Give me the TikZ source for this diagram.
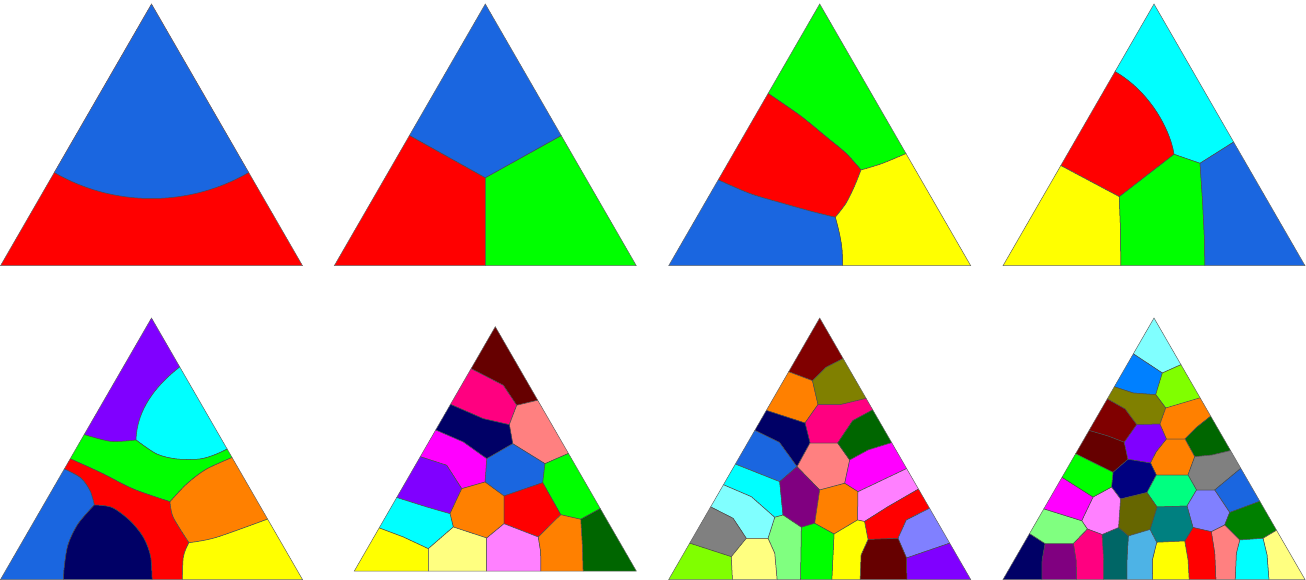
\documentclass[tikz,border=0pt]{standalone}
\usepackage{tikz}
\definecolor{vblue}{RGB}{26,102,224}
\definecolor{vred}{RGB}{255,0,0}
\definecolor{vgreen}{RGB}{0,255,0}
\definecolor{vyellow}{RGB}{255,255,0}
\definecolor{vcyan}{RGB}{0,255,255}
\definecolor{vviolet}{RGB}{128,0,255}
\definecolor{vorange}{RGB}{255,128,0}
\definecolor{vnavy}{RGB}{0,0,102}
\definecolor{vnavyb}{RGB}{0,0,128}
\definecolor{vdkred}{RGB}{102,0,0}
\definecolor{vmaroon}{RGB}{128,0,0}
\definecolor{volive}{RGB}{128,128,0}
\definecolor{vdkolive}{RGB}{102,102,0}
\definecolor{vhotpink}{RGB}{255,0,128}
\definecolor{vsalmon}{RGB}{255,128,128}
\definecolor{vltmag}{RGB}{255,128,255}
\definecolor{vmagenta}{RGB}{255,0,255}
\definecolor{vltyellow}{RGB}{255,255,128}
\definecolor{vltcyan}{RGB}{128,255,255}
\definecolor{vltgreen}{RGB}{128,255,128}
\definecolor{vchart}{RGB}{128,255,0}
\definecolor{vgray}{RGB}{128,128,128}
\definecolor{vdkgreen}{RGB}{0,102,0}
\definecolor{vgreenb}{RGB}{0,128,0}
\definecolor{vlavender}{RGB}{128,128,255}
\definecolor{vazure}{RGB}{0,128,255}
\definecolor{vteal}{RGB}{0,128,128}
\definecolor{vdkteal}{RGB}{0,102,102}
\definecolor{vplum}{RGB}{128,0,128}
\definecolor{vskyblue}{RGB}{77,179,230}
\definecolor{vseafoam}{RGB}{0,255,128}

\begin{document}
\begin{tikzpicture}[x=1pt, y=-1pt,
    cell/.style={draw=black!70, line width=0.5pt},
    rim/.style={draw=black!60, line width=0.5pt}]
\useasboundingbox (0,0) rectangle (1306,580);

% top row, 1
\begin{scope}
\clip (151.5,4) -- (0.5,265.7) -- (302.5,265.7) -- cycle;
\draw[cell, fill=vred] (-10,-10) rectangle (320,280);
\draw[cell, fill=vblue] (151.5,4) circle[radius=194.5pt];
\end{scope}
\draw[rim] (151.5,4) -- (0.5,265.7) -- (302.5,265.7) -- cycle;

% top row, 2
\begin{scope}
\clip (485.3,4) -- (334.3,265.7) -- (636.3,265.7) -- cycle;
\coordinate (t2j) at (485.3,177.7);
\draw[cell, fill=vred] (t2j) -- (380,118.9) -- (330,275) -- (485.3,275) -- cycle;
\draw[cell, fill=vgreen] (t2j) -- (591,118.9) -- (640,275) -- (485.3,275) -- cycle;
\draw[cell, fill=vblue] (t2j) -- (380,118.9) -- (485.3,-10) -- (591,118.9) -- cycle;
\end{scope}
\draw[rim] (485.3,4) -- (334.3,265.7) -- (636.3,265.7) -- cycle;

% top row, 3
\begin{scope}
\clip (819.7,4) -- (668.7,265.7) -- (970.7,265.7) -- cycle;
\draw[cell, fill=vgreen] (819.7,-10)
  -- plot[smooth] coordinates {(760,88) (799.3,115) (826,136.7) (846,153.3) (861,170)}
  -- plot[smooth] coordinates {(861,170) (882.7,163.3) (912,151)} -- cycle;
\draw[cell, fill=vred] (712,177)
  -- plot[smooth] coordinates {(760,88) (799.3,115) (826,136.7) (846,153.3) (861,170)}
  -- plot[smooth] coordinates {(861,170) (854.3,186.7) (846,203.3) (835.3,217.3)}
  -- plot[smooth] coordinates {(835.3,217.3) (812.7,211.7) (782.7,203.3) (749.3,193.3) (712,177)} -- cycle;
\draw[cell, fill=vyellow] plot[smooth] coordinates {(861,170) (882.7,163.3) (912,151)}
  -- (985,280) -- (843,280)
  -- plot[smooth] coordinates {(843,280) (842,250) (839.3,233.3) (835.3,217.3)}
  -- plot[smooth] coordinates {(835.3,217.3) (846,203.3) (854.3,186.7) (861,170)} -- cycle;
\draw[cell, fill=vblue] plot[smooth] coordinates {(712,177) (749.3,193.3) (782.7,203.3) (812.7,211.7) (835.3,217.3)}
  -- plot[smooth] coordinates {(835.3,217.3) (839.3,233.3) (842,250) (843,280)}
  -- (650,280) -- cycle;
\end{scope}
\draw[rim] (819.7,4) -- (668.7,265.7) -- (970.7,265.7) -- cycle;

% top row, 4
\begin{scope}
\clip (1154,4) -- (1003,265.7) -- (1305,265.7) -- cycle;
\coordinate (t4a) at (1174,154.3);
\coordinate (t4b) at (1200,163.3);
\coordinate (t4c) at (1119.3,196.7);
\draw[cell, fill=vcyan] (1154,-10) -- (1112,70) .. controls (1146,88) and (1169,125) .. (t4a)
  -- (t4b) -- (1240,138) -- cycle;
\draw[cell, fill=vred] (1112,70) .. controls (1146,88) and (1169,125) .. (t4a)
  -- (t4c) -- (1055,162.5) -- cycle;
\draw[cell, fill=vyellow] (1055,162.5) -- (t4c) -- (1120.5,230) -- (1121,275) -- (995,275) -- cycle;
\draw[cell, fill=vgreen] (t4c) -- (t4a) -- (t4b) -- (1202.5,200) -- (1204.5,240) -- (1205,275) -- (1121,275) -- (1120.5,230) -- cycle;
\draw[cell, fill=vblue] (t4b) -- (1240,138) -- (1315,275) -- (1205,275) -- (1204.5,240) -- (1202.5,200) -- cycle;
\end{scope}
\draw[rim] (1154,4) -- (1003,265.7) -- (1305,265.7) -- cycle;

% bottom row, 1
\begin{scope}
\clip (151.5,318) -- (0.5,579.5) -- (302.5,579.5) -- cycle;
\draw[cell, fill=vviolet] (151.5,300) -- (185,363) .. controls (155,385) and (137,410) .. (136,440)
  -- plot[smooth] coordinates {(136,440) (110,441.3) (79,433)} -- cycle;
\draw[cell, fill=vcyan] (185,363) .. controls (155,385) and (137,410) .. (136,440)
  -- plot[smooth] coordinates {(136,440) (156.7,454) (176.7,459) (200,459) (216.7,454) (235,445)} -- cycle;
\draw[cell, fill=vgreen] plot[smooth] coordinates {(79,433) (110,441.3) (136,440)}
  -- plot[smooth] coordinates {(136,440) (156.7,454) (176.7,459) (200,459) (216.7,454) (235,445)}
  -- (238,455)
  -- plot[smooth] coordinates {(238,455) (206.7,469) (186.7,484) (170,501.7)}
  -- plot[smooth] coordinates {(170,501.7) (133.3,489) (100,472.3) (64,456)} -- cycle;
\draw[cell, fill=vred] plot[smooth] coordinates {(64,456) (100,472.3) (133.3,489) (170,501.7)}
  -- plot[smooth] coordinates {(170,501.7) (173.3,517.3) (189,542.7)}
  -- plot[smooth] coordinates {(189,542.7) (183.3,557.3) (182.3,590)}
  -- plot[smooth] coordinates {(152.3,590) (150.7,557.3) (143.3,537.3) (130,520.7) (112,507.5) (94.3,505)}
  -- plot[smooth] coordinates {(94.3,505) (90,490.7) (80,477.3) (58,466)} -- cycle;
\draw[cell, fill=vblue] plot[smooth] coordinates {(58,466) (80,477.3) (90,490.7) (94.3,505)}
  -- plot[smooth] coordinates {(94.3,505) (78,524) (68,545) (64,570) (63.5,590)}
  -- (-10,590) -- cycle;
\draw[cell, fill=vnavy] plot[smooth] coordinates {(94.3,505) (78,524) (68,545) (64,570) (63.5,590)}
  -- (152.3,590)
  -- plot[smooth] coordinates {(152.3,590) (150.7,557.3) (143.3,537.3) (130,520.7) (112,507.5) (94.3,505)} -- cycle;
\draw[cell, fill=vorange] plot[smooth] coordinates {(170,501.7) (186.7,484) (206.7,469) (238,455)}
  -- (276,516)
  -- plot[smooth] coordinates {(276,516) (216.7,537.3) (189,542.7)}
  -- plot[smooth] coordinates {(189,542.7) (173.3,517.3) (170,501.7)} -- cycle;
\draw[cell, fill=vyellow] plot[smooth] coordinates {(189,542.7) (216.7,537.3) (276,516)}
  -- (320,590)
  -- plot[smooth] coordinates {(182.3,590) (183.3,557.3) (189,542.7)} -- cycle;
\end{scope}
\draw[rim] (151.5,318) -- (0.5,579.5) -- (302.5,579.5) -- cycle;

% bottom row, 2
\begin{scope}
\clip (495.3,326.7) -- (354.3,571) -- (636.3,571) -- cycle;
\coordinate (t6a) at (516.7,405.3);
\coordinate (t6b) at (509.3,424.7);
\coordinate (t6c) at (545,463.7);
\coordinate (t6d) at (512.7,443.7);
\coordinate (t6e) at (486.7,458.7);
\coordinate (t6f) at (542.7,482.7);
\coordinate (t6g) at (504,496);
\coordinate (t6h) at (485,482);
\coordinate (t6i) at (461.7,488.7);
\coordinate (t6j) at (560.7,514.7);
\coordinate (t6k) at (580.7,519.3);
\coordinate (t6l) at (450,513.7);
\coordinate (t6m) at (504,523.7);
\coordinate (t6n) at (486.7,538);
\coordinate (t6o) at (453.3,527);
\coordinate (t6p) at (538.3,537);
\coordinate (t6q) at (428.3,548.7);
\draw[cell, fill=vdkred] (495.3,315) -- (466,366) -- (503.3,385.3) -- (t6a) -- (543,399) -- cycle;
\draw[cell, fill=vhotpink] (466,366) -- (503.3,385.3) -- (t6a) -- (t6b) -- (483.3,418.7) -- (445,402) -- cycle;
\draw[cell, fill=vsalmon] (t6a) -- (543,399) -- (574,451) -- (t6c) -- (t6d) -- (t6b) -- cycle;
\draw[cell, fill=vnavy] (445,402) -- (483.3,418.7) -- (t6b) -- (t6d) -- (t6e) -- (463.3,442) -- (431,428) -- cycle;
\draw[cell, fill=vblue] (t6d) -- (t6c) -- (t6f) -- (t6g) -- (t6h) -- (t6e) -- cycle;
\draw[cell, fill=vmagenta] (431,428) -- (463.3,442) -- (t6e) -- (t6h) -- (t6i) -- (446.7,465.3) -- (415,455) -- cycle;
\draw[cell, fill=vgreen] (574,451) -- (t6c) -- (t6f) -- (t6j) -- (t6k) -- (605,506) -- cycle;
\draw[cell, fill=vviolet] (415,455) -- (446.7,465.3) -- (t6i) -- (t6l) -- (426.7,507) -- (392,496) -- cycle;
\draw[cell, fill=vorange] (t6i) -- (t6h) -- (t6g) -- (t6m) -- (t6n) -- (t6o) -- (t6l) -- cycle;
\draw[cell, fill=vred] (t6g) -- (t6f) -- (t6j) -- (t6p) -- (t6m) -- cycle;
\draw[cell, fill=vdkgreen] (605,506) -- (t6k) -- (582.3,545.3) -- (583.3,580) -- (650,580) -- cycle;
\draw[cell, fill=vcyan] (392,496) -- (426.7,507) -- (t6l) -- (t6o) -- (t6q) -- (403.3,537) -- (374,526) -- cycle;
\draw[cell, fill=vyellow] (374,526) -- (403.3,537) -- (t6q) -- (428.3,580) -- (340,580) -- cycle;
\draw[cell, fill=vltyellow] (t6q) -- (t6o) -- (t6n) -- (486.7,580) -- (428.3,580) -- cycle;
\draw[cell, fill=vltmag] (t6n) -- (t6m) -- (t6p) -- (540.7,552) -- (541,580) -- (486.7,580) -- cycle;
\draw[cell, fill=vorange] (t6p) -- (t6j) -- (t6k) -- (582.3,545.3) -- (583.3,580) -- (541,580) -- (540.7,552) -- cycle;
\end{scope}
\draw[rim] (495.3,326.7) -- (354.3,571) -- (636.3,571) -- cycle;

% bottom row, 3
\begin{scope}
\clip (819.7,318) -- (668.7,579.5) -- (970.7,579.5) -- cycle;
\coordinate (t7a) at (812.5,380.7);
\coordinate (t7b) at (818,404.5);
\coordinate (t7c) at (805,423);
\coordinate (t7d) at (837.7,443);
\coordinate (t7e) at (810,443);
\coordinate (t7f) at (797,466.7);
\coordinate (t7g) at (849.7,460);
\coordinate (t7h) at (844.7,483.3);
\coordinate (t7i) at (819.7,490);
\coordinate (t7bc) at (779.7,481.7);
\coordinate (t7k) at (858,491.7);
\coordinate (t7l) at (814.7,523.3);
\coordinate (t7m) at (801.3,527.3);
\coordinate (t7n) at (783,515);
\coordinate (t7v) at (857.5,520);
\coordinate (t7u) at (834,534);
\coordinate (t7q) at (864.5,521.5);
\coordinate (t7r) at (898,538.3);
\coordinate (t7s) at (868,539.5);
\coordinate (t7t) at (906.5,558);
\coordinate (t7w) at (774.7,517.3);
\coordinate (t7x) at (768,538.3);
\coordinate (t7y) at (746.3,538.3);
\coordinate (t7z) at (731.3,556.7);
\draw[cell, fill=vmaroon] (819.7,305) -- (784,370) -- (t7a) -- (826,367.3) -- (848,356) -- cycle;
\draw[cell, fill=vorange] (784,370) -- (t7a) -- (t7b) -- (t7c) -- (762,409) -- cycle;
\draw[cell, fill=volive] (t7a) -- (826,367.3) -- (848,356) -- (872,397) -- (840,404.7) -- (t7b) -- cycle;
\draw[cell, fill=vhotpink] (t7b) -- (840,404.7) -- (872,397) -- (878,407) -- (852.7,420.7) -- (t7d) -- (t7e) -- (t7c) -- cycle;
\draw[cell, fill=vnavy] (762,409) -- (t7c) -- (t7e) -- (t7f) -- (779.3,442.3) -- (750,428) -- cycle;
\draw[cell, fill=vsalmon] (t7e) -- (t7d) -- (t7g) -- (t7h) -- (t7i) -- (t7f) -- cycle;
\draw[cell, fill=vdkgreen] (878,407) -- (852.7,420.7) -- (t7d) -- (t7g) -- (868,450) -- (897,441) -- cycle;
\draw[cell, fill=vblue] (750,428) -- (779.3,442.3) -- (t7f) -- (t7bc) -- (730,462) -- cycle;
\draw[cell, fill=vmagenta] (t7g) -- (868,450) -- (897,441) -- (912,466) -- (t7k) -- (t7h) -- cycle;
\draw[cell, fill=vcyan] (730,462) -- (t7bc) -- (t7n) -- (t7w) -- (751.3,496.7) -- (717,482) -- cycle;
\draw[cell, fill=vplum] (t7bc) -- (t7f) -- (t7i) -- (t7l) -- (t7m) -- (t7n) -- cycle;
\draw[cell, fill=vorange] (t7i) -- (t7h) -- (t7k) -- (t7v) -- (t7u) -- (t7l) -- cycle;
\draw[cell, fill=vltmag] (t7k) -- (912,466) -- (922,487) -- (888,506.7) -- (t7q) -- (t7v) -- cycle;
\draw[cell, fill=vred] (t7q) -- (888,506.7) -- (922,487) -- (934,506) -- (906.3,520) -- (t7r) -- (t7s) -- cycle;
\draw[cell, fill=vlavender] (934,506) -- (906.3,520) -- (t7r) -- (t7t) -- (956,541) -- cycle;
\draw[cell, fill=vviolet] (t7t) -- (956,541) -- (990,590) -- (907,590) -- cycle;
\draw[cell, fill=vdkred] (t7s) -- (t7r) -- (t7t) -- (907,590) -- (859.7,590) -- (861,555) -- cycle;
\draw[cell, fill=vyellow] (t7u) -- (t7v) -- (t7q) -- (t7s) -- (861,555) -- (859.7,590) -- (831.3,590) -- cycle;
\draw[cell, fill=vgreen] (t7m) -- (t7l) -- (t7u) -- (831.3,590) -- (800.3,590) -- cycle;
\draw[cell, fill=vltgreen] (t7w) -- (t7n) -- (t7m) -- (800.3,590) -- (778,590) -- (774.7,553.3) -- (t7x) -- cycle;
\draw[cell, fill=vltcyan] (717,482) -- (751.3,496.7) -- (t7w) -- (t7x) -- (t7y) -- (733,518.3) -- (703,503) -- cycle;
\draw[cell, fill=vgray] (703,503) -- (733,518.3) -- (t7y) -- (t7z) -- (683,541) -- cycle;
\draw[cell, fill=vchart] (683,541) -- (t7z) -- (733,590) -- (650,590) -- cycle;
\draw[cell, fill=vltyellow] (t7z) -- (t7y) -- (t7x) -- (774.7,553.3) -- (778,590) -- (733,590) -- cycle;
\end{scope}
\draw[rim] (819.7,318) -- (668.7,579.5) -- (970.7,579.5) -- cycle;

% bottom row, 4
\begin{scope}
\clip (1154,318) -- (1003,579.5) -- (1305,579.5) -- cycle;
\coordinate (t8a) at (1162.3,373);
\coordinate (t8b) at (1155.7,394.7);
\coordinate (t8c) at (1165.7,408);
\coordinate (t8d) at (1160,424);
\coordinate (t8e) at (1136.7,424.7);
\coordinate (t8f) at (1185,439);
\coordinate (t8p3) at (1166.5,439);
\coordinate (t8dr) at (1124.3,442.3);
\coordinate (t8g) at (1194.7,456.7);
\coordinate (t8p4) at (1156.3,451.7);
\coordinate (t8p5) at (1150.5,463);
\coordinate (t8n2) at (1128,459.3);
\coordinate (t8n1) at (1113,472.3);
\coordinate (t8i) at (1156.3,475);
\coordinate (t8h) at (1188,475);
\coordinate (t8j) at (1214.7,490);
\coordinate (t8k) at (1196.5,490);
\coordinate (t8s1) at (1187,506);
\coordinate (t8s2) at (1157,507);
\coordinate (t8n5) at (1147,492.5);
\coordinate (t8n6) at (1120.5,499);
\coordinate (t8gp) at (1111.5,487);
\coordinate (t8q) at (1093,497);
\coordinate (t8l1) at (1229.7,512.5);
\coordinate (t8l2) at (1224.7,525);
\coordinate (t8l3) at (1211.3,531.7);
\coordinate (t8l4) at (1193,527.5);
\coordinate (t8c1) at (1239.7,540);
\coordinate (t8c2) at (1263,538.3);
\coordinate (t8y1) at (1184.7,541);
\coordinate (t8y0) at (1156.7,542.3);
\coordinate (t8t) at (1150,529.5);
\coordinate (t8u) at (1128.3,536);
\coordinate (t8w) at (1118.5,527.5);
\coordinate (t8x) at (1102,534.5);
\coordinate (t8z) at (1087.3,529);
\coordinate (t8mg) at (1081.7,520.7);
\coordinate (t8dp) at (1073.3,543.5);
\coordinate (t8pp) at (1045,543.5);
\draw[cell, fill=vltcyan] (1154,305) -- (1129,351) -- (t8a) -- (1187,362) -- cycle;
\draw[cell, fill=vazure] (1129,351) -- (t8a) -- (t8b) -- (1133.3,393) -- (1109,385) -- cycle;
\draw[cell, fill=vchart] (t8a) -- (1187,362) -- (1206,396) -- (1186.7,405.7) -- (t8c) -- (t8b) -- cycle;
\draw[cell, fill=volive] (1109,385) -- (1133.3,393) -- (t8b) -- (t8c) -- (t8d) -- (t8e) -- (1125,409) -- (1102,396) -- cycle;
\draw[cell, fill=vmaroon] (1102,396) -- (1125,409) -- (t8e) -- (t8dr) -- (1108,436) -- (1084,429) -- cycle;
\draw[cell, fill=vdkred] (1084,429) -- (1108,436) -- (t8dr) -- (t8n2) -- (t8n1) -- (1070,451) -- cycle;
\draw[cell, fill=vviolet] (t8e) -- (t8d) -- (t8p3) -- (t8p4) -- (t8p5) -- (t8n2) -- (t8dr) -- cycle;
\draw[cell, fill=vorange] (t8c) -- (1206,396) -- (1216,412) -- (1196.7,427.3) -- (t8f) -- (t8p3) -- (t8d) -- cycle;
\draw[cell, fill=vdkgreen] (1216,412) -- (1196.7,427.3) -- (t8f) -- (t8g) -- (1212,455) -- (1237,449) -- cycle;
\draw[cell, fill=vorange] (t8p3) -- (t8f) -- (t8g) -- (t8h) -- (t8i) -- (t8p5) -- (t8p4) -- cycle;
\draw[cell, fill=vnavyb] (t8n1) -- (t8n2) -- (t8p5) -- (t8i) -- (t8n5) -- (t8n6) -- (t8gp) -- cycle;
\draw[cell, fill=vgray] (t8g) -- (1212,455) -- (1237,449) -- (1246,464) -- (t8j) -- (t8k) -- (t8h) -- cycle;
\draw[cell, fill=vseafoam] (t8i) -- (t8h) -- (t8k) -- (t8s1) -- (t8s2) -- (t8n5) -- cycle;
\draw[cell, fill=vblue] (1246,464) -- (1266,499) -- (t8l1) -- (t8j) -- cycle;
\draw[cell, fill=vlavender] (t8k) -- (t8j) -- (t8l1) -- (t8l2) -- (t8l3) -- (t8l4) -- (t8s1) -- cycle;
\draw[cell, fill=vgreenb] (1266,499) -- (1282,527) -- (t8c2) -- (t8c1) -- (t8l2) -- (t8l1) -- cycle;
\draw[cell, fill=vltyellow] (1282,527) -- (1320,590) -- (1269.7,590) -- (1267,555) -- (t8c2) -- cycle;
\draw[cell, fill=vcyan] (t8c1) -- (t8c2) -- (1267,555) -- (1269.7,590) -- (1234.7,590) -- (1236.3,553.3) -- cycle;
\draw[cell, fill=vsalmon] (t8l3) -- (t8l2) -- (t8c1) -- (1236.3,553.3) -- (1234.7,590) -- (1216.3,590) -- (1214.7,553.3) -- cycle;
\draw[cell, fill=vred] (t8l4) -- (t8l3) -- (1214.7,553.3) -- (1216.3,590) -- (1189.7,590) -- (1188,560) -- (t8y1) -- cycle;
\draw[cell, fill=vteal] (t8s2) -- (t8s1) -- (t8l4) -- (t8y1) -- (t8y0) -- (t8t) -- cycle;
\draw[cell, fill=vyellow] (t8y0) -- (t8y1) -- (1188,560) -- (1189.7,590) -- (1152.7,590) -- (1152.3,560) -- cycle;
\draw[cell, fill=vdkolive] (t8n6) -- (t8n5) -- (t8s2) -- (t8t) -- (t8u) -- (t8w) -- cycle;
\draw[cell, fill=vskyblue] (t8u) -- (t8t) -- (t8y0) -- (1152.3,560) -- (1152.7,590) -- (1126.7,590) -- (1127,558) -- cycle;
\draw[cell, fill=vdkteal] (t8x) -- (t8w) -- (t8u) -- (1127,558) -- (1126.7,590) -- (1103.3,590) -- (1103.5,558) -- cycle;
\draw[cell, fill=vltmag] (t8q) -- (t8gp) -- (t8n6) -- (t8w) -- (t8x) -- (t8z) -- (t8mg) -- cycle;
\draw[cell, fill=vhotpink] (t8dp) -- (t8z) -- (t8x) -- (1103.5,558) -- (1103.3,590) -- (1077,590) -- (1076,560) -- cycle;
\draw[cell, fill=vplum] (t8pp) -- (t8dp) -- (1076,560) -- (1077,590) -- (1041.7,590) -- (1042,560) -- cycle;
\draw[cell, fill=vnavy] (1024,530) -- (t8pp) -- (1042,560) -- (1041.7,590) -- (990,590) -- cycle;
\draw[cell, fill=vltgreen] (1038,507) -- (t8mg) -- (t8z) -- (t8dp) -- (t8pp) -- (1024,530) -- cycle;
\draw[cell, fill=vmagenta] (1057,474) -- (t8q) -- (t8mg) -- (1038,507) -- cycle;
\draw[cell, fill=vgreen] (1070,451) -- (t8n1) -- (t8gp) -- (t8q) -- (1057,474) -- cycle;
\end{scope}
\draw[rim] (1154,318) -- (1003,579.5) -- (1305,579.5) -- cycle;
\end{tikzpicture}
\end{document}
